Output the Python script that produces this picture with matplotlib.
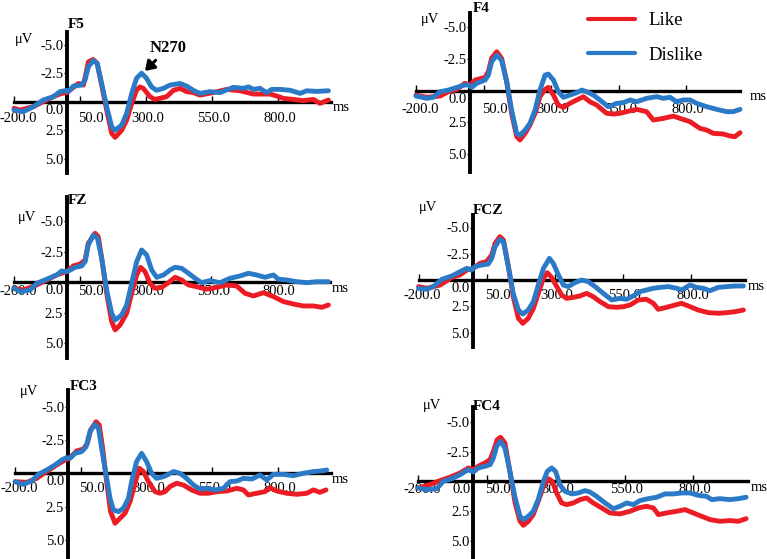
import matplotlib
matplotlib.use("Agg")
import matplotlib.pyplot as plt
from matplotlib.transforms import ScaledTranslation

plt.rcParams['font.family'] = ['Liberation Serif', 'DejaVu Serif']

# ---------------- data ----------------
channels = ["F5", "F4", "FZ", "FCZ", "FC3", "FC4"]
conditions = ["Like", "Dislike"]
x_ticks = [-200, 50, 300, 550, 800]
x_tick_labels = ["-200.0", "50.0", "300.0", "550.0", "800.0"]
y_ticks = [-5.0, -2.5, 2.5, 5.0]
y_tick_labels = ["-5.0", "-2.5", "2.5", "5.0"]
peak_label = "N270"
peak_time = 296
peak_uv = -2.7

F5_LIKE_T = [-200, -177, -127, -89, -51, -20, 0, 25, 44, 63, 82, 100, 115, 132, 151, 170, 183, 208, 227, 246, 264, 277, 290, 315, 334, 353, 378, 404, 429, 454, 479, 504, 555, 606, 656, 707, 744, 770, 795, 820, 858, 896, 934, 959, 991]
F5_LIKE_UV = [0.58, 0.73, 0.44, 0, -0.44, -0.73, -0.8, -1.26, -1.6, -1.46, -3.5, -3.7, -3.36, -1.46, 0.73, 2.78, 3.13, 2.5, 1.6, 0.15, -1.0, -1.3, -1.17, -0.44, -0.2, -0.3, -0.44, -1.0, -1.17, -0.88, -0.8, -0.58, -0.8, -1.08, -0.96, -0.67, -0.67, -0.67, -0.5, -0.29, -0.2, -0.09, -0.2, 0.15, -0.15]
F5_DISLIKE_T = [-200, -165, -127, -89, -51, -26, 0, 6, 25, 56, 69, 82, 100, 115, 132, 151, 170, 183, 208, 227, 246, 264, 283, 302, 321, 340, 366, 391, 429, 454, 479, 504, 542, 580, 631, 669, 688, 707, 732, 757, 776, 808, 846, 884, 909, 947, 991]
F5_DISLIKE_UV = [0.73, 0.88, 0.44, -0.15, -0.44, -0.88, -1.0, -0.88, -1.37, -1.46, -1.9, -3.07, -3.6, -3.36, -1.6, 0.44, 2.2, 2.5, 2.05, 1.0, -0.73, -2.05, -2.5, -2.05, -1.3, -1.0, -1.17, -1.46, -1.6, -1.37, -1.0, -0.73, -0.88, -0.8, -1.26, -1.17, -1.3, -1.08, -1.17, -0.8, -1.08, -1.08, -1.0, -0.73, -0.96, -0.9, -0.96]

F4_LIKE_T = [-200, -160, -111, -80, -49, -19, 0, 19, 56, 68, 80, 99, 117, 136, 154, 173, 185, 204, 222, 241, 259, 278, 290, 309, 327, 346, 370, 395, 420, 444, 469, 506, 531, 556, 580, 617, 654, 679, 716, 753, 778, 815, 852, 877, 901, 938, 963, 981, 1000]
F4_LIKE_UV = [0.34, 0.52, 0.42, 0.08, -0.1, -0.58, -0.45, -0.84, -1.05, -1.5, -2.55, -3.07, -2.55, -0.7, 1.78, 3.62, 3.88, 3.36, 2.7, 1.78, 0.47, -0.1, -0.26, 0.34, 1.13, 1.31, 1.0, 0.73, 0.47, 0.87, 1.13, 1.78, 1.84, 1.78, 1.65, 1.47, 1.65, 2.31, 2.18, 2.0, 2.18, 2.44, 2.97, 3.1, 3.36, 3.41, 3.57, 3.62, 3.31]
F4_DISLIKE_T = [-200, -160, -136, -111, -80, -49, -19, -6, 6, 25, 56, 68, 80, 99, 117, 136, 154, 173, 185, 204, 222, 241, 259, 278, 290, 309, 327, 346, 370, 395, 414, 432, 457, 481, 512, 543, 568, 593, 617, 654, 691, 716, 741, 765, 790, 815, 840, 877, 914, 951, 975, 1000]
F4_DISLIKE_UV = [0.42, 0.6, 0.52, 0.08, -0.05, -0.26, -0.45, -0.45, -0.26, -0.58, -0.84, -1.23, -2.28, -2.8, -2.4, -0.7, 1.52, 3.36, 3.5, 3.1, 2.57, 1.52, -0.05, -1.23, -1.31, -0.84, 0.08, 0.52, 0.34, 0.16, -0.05, 0.08, 0.34, 0.73, 1.26, 1.0, 0.94, 0.73, 0.87, 0.6, 0.47, 0.6, 0.52, 0.87, 0.73, 0.73, 1.0, 1.26, 1.47, 1.65, 1.65, 1.47]

FZ_LIKE_T = [-200, -165, -114, -76, -38, -13, 0, 25, 51, 70, 82, 108, 120, 133, 152, 171, 184, 203, 228, 247, 266, 281, 298, 317, 336, 361, 387, 412, 437, 463, 494, 532, 570, 608, 646, 678, 710, 748, 786, 824, 862, 900, 938, 970, 995]
FZ_LIKE_UV = [0.49, 0.63, 0.22, -0.19, -0.6, -0.79, -0.87, -1.34, -1.5, -1.83, -3.2, -4.02, -3.74, -1.97, 0.9, 3.22, 3.9, 3.5, 2.54, 0.9, -0.6, -1.23, -0.87, 0.08, 0.49, 0.41, 0.03, -0.41, -0.19, 0.22, 0.36, 0.57, 0.41, 0.22, 0.3, 0.9, 1.12, 0.85, 1.17, 1.58, 1.78, 1.94, 1.94, 2.05, 1.86]
FZ_DISLIKE_T = [-200, -177, -139, -114, -76, -38, -19, 0, 13, 32, 57, 70, 82, 101, 117, 133, 152, 171, 184, 209, 228, 247, 266, 285, 304, 323, 342, 368, 393, 412, 437, 463, 488, 513, 545, 583, 621, 659, 691, 722, 754, 786, 805, 837, 875, 913, 951, 995]
FZ_DISLIKE_UV = [0.49, 0.77, 0.63, 0.08, -0.25, -0.6, -0.93, -0.87, -1.0, -1.23, -1.34, -1.69, -3.06, -3.88, -3.6, -1.97, 0.63, 2.54, 3.09, 2.68, 1.86, 0.08, -1.69, -2.65, -2.24, -1.01, -0.41, -0.6, -1.01, -1.23, -1.15, -0.74, -0.33, 0.03, -0.14, 0.03, -0.33, -0.52, -0.74, -0.6, -0.41, -0.6, -0.25, -0.19, -0.05, 0.03, -0.05, -0.05]

FCZ_LIKE_T = [-200, -170, -121, -78, -48, -23, 1, 26, 50, 69, 81, 99, 112, 130, 148, 167, 183, 203, 222, 240, 259, 273, 289, 308, 326, 344, 369, 393, 418, 442, 467, 498, 528, 553, 577, 608, 638, 663, 681, 712, 743, 767, 798, 828, 865, 902, 933, 963, 994]
FCZ_LIKE_UV = [0.63, 0.79, 0.48, -0.25, -0.48, -0.95, -1.11, -1.59, -1.75, -2.38, -3.49, -4.13, -3.81, -1.27, 1.59, 3.65, 4.13, 3.65, 2.7, 1.27, -0.16, -0.7, -0.25, 0.63, 1.43, 1.75, 1.65, 1.52, 1.27, 1.59, 2.06, 2.54, 2.6, 2.54, 2.38, 1.9, 1.84, 2.22, 2.79, 2.6, 2.38, 2.22, 2.54, 2.86, 3.11, 3.17, 3.11, 3.02, 2.86]
FCZ_DISLIKE_T = [-200, -170, -146, -115, -78, -48, -23, -5, 7, 32, 56, 69, 81, 99, 112, 130, 148, 167, 183, 203, 222, 240, 259, 281, 295, 314, 332, 350, 375, 400, 424, 449, 479, 510, 540, 565, 589, 614, 638, 663, 688, 718, 749, 767, 798, 822, 847, 871, 902, 933, 963, 994]
FCZ_DISLIKE_UV = [0.79, 0.89, 0.63, -0.06, -0.38, -0.79, -1.11, -0.95, -1.27, -1.43, -1.52, -2.06, -3.17, -3.87, -3.65, -1.27, 1.27, 2.86, 3.24, 2.86, 2.06, 0.48, -1.11, -2.06, -1.59, -0.48, 0.48, 0.63, 0.25, 0, 0.16, 0.63, 1.27, 1.9, 1.75, 1.84, 1.52, 1.11, 0.95, 0.79, 0.7, 0.63, 0.79, 0.95, 0.48, 0.7, 0.79, 1.02, 0.7, 0.63, 0.57, 0.57]

FC3_LIKE_T = [-200, -156, -118, -80, -42, -10, 9, 34, 60, 75, 87, 108, 120, 133, 148, 163, 180, 199, 218, 237, 256, 272, 288, 307, 332, 351, 370, 389, 414, 440, 471, 503, 535, 567, 605, 643, 668, 687, 719, 750, 769, 795, 833, 871, 909, 934, 959, 982]
FC3_LIKE_UV = [0.63, 0.68, 0.38, -0.13, -0.63, -1.0, -1.18, -1.68, -1.83, -2.26, -3.26, -3.88, -3.63, -1.88, 0.63, 2.88, 3.76, 3.38, 3.0, 2.13, 0.75, -0.38, -0.13, 0.63, 1.38, 1.5, 1.38, 1.0, 0.75, 0.88, 1.25, 1.5, 1.5, 1.38, 1.33, 1.13, 1.25, 1.63, 1.5, 1.38, 1.08, 1.33, 1.5, 1.58, 1.5, 1.25, 1.43, 1.25]
FC3_DISLIKE_T = [-200, -169, -137, -112, -80, -48, -23, -4, 9, 28, 53, 70, 85, 104, 117, 129, 146, 161, 174, 193, 212, 231, 243, 262, 281, 300, 319, 338, 364, 383, 402, 427, 452, 478, 503, 528, 560, 592, 617, 643, 668, 700, 731, 757, 782, 820, 858, 896, 934, 966, 985]
FC3_DISLIKE_UV = [0.63, 0.83, 0.58, 0.08, -0.25, -0.63, -1.0, -1.18, -1.13, -1.5, -1.63, -2.0, -3.13, -3.68, -3.38, -1.88, 0.13, 1.88, 2.76, 2.88, 2.63, 1.88, 0.63, -0.88, -1.5, -0.88, 0, 0.38, 0.25, 0.08, -0.13, 0, 0.38, 0.88, 1.18, 1.13, 1.25, 1.13, 0.63, 0.58, 0.38, 0.43, 0.13, 0.5, 0.08, 0.08, 0.18, 0, -0.13, -0.18, -0.25]

FC4_LIKE_T = [-200, -158, -121, -85, -48, -18, 0, 18, 48, 61, 73, 87, 99, 115, 133, 152, 170, 182, 200, 218, 236, 255, 273, 287, 303, 321, 339, 364, 388, 412, 436, 467, 497, 533, 570, 600, 630, 655, 673, 703, 739, 770, 800, 830, 861, 897, 933, 964, 992]
FC4_LIKE_UV = [0.56, 0.28, -0.06, -0.34, -0.7, -1.12, -0.98, -1.26, -1.62, -1.82, -2.52, -3.5, -3.7, -3.22, -0.84, 1.82, 3.36, 3.7, 3.36, 2.8, 1.68, 0.42, -0.22, 0, 0.98, 1.82, 1.96, 1.82, 1.54, 1.4, 1.82, 2.24, 2.66, 2.74, 2.52, 2.24, 2.1, 2.24, 2.8, 2.66, 2.52, 2.38, 2.66, 2.94, 3.22, 3.36, 3.3, 3.36, 3.14]
FC4_DISLIKE_T = [-200, -170, -133, -109, -79, -48, -18, 0, 18, 42, 61, 73, 85, 99, 115, 133, 152, 170, 182, 200, 218, 236, 255, 269, 285, 299, 315, 333, 358, 382, 406, 424, 448, 479, 509, 533, 558, 582, 606, 636, 667, 697, 727, 758, 788, 818, 848, 867, 897, 933, 964, 992]
FC4_DISLIKE_UV = [0.56, 0.7, 0.62, 0, -0.22, -0.56, -0.98, -0.78, -1.12, -1.26, -1.4, -1.96, -2.94, -3.36, -2.8, -0.84, 1.4, 2.94, 3.22, 2.94, 2.52, 1.54, 0, -0.84, -1.12, -0.84, 0.28, 0.84, 1.06, 0.98, 0.78, 0.9, 1.26, 1.82, 2.3, 2.1, 1.82, 1.96, 1.62, 1.46, 1.34, 1.06, 1.06, 0.98, 0.98, 1.18, 1.26, 1.54, 1.46, 1.54, 1.46, 1.34]

SERIES = {
    "F5": ((F5_LIKE_T, F5_LIKE_UV), (F5_DISLIKE_T, F5_DISLIKE_UV)),
    "F4": ((F4_LIKE_T, F4_LIKE_UV), (F4_DISLIKE_T, F4_DISLIKE_UV)),
    "FZ": ((FZ_LIKE_T, FZ_LIKE_UV), (FZ_DISLIKE_T, FZ_DISLIKE_UV)),
    "FCZ": ((FCZ_LIKE_T, FCZ_LIKE_UV), (FCZ_DISLIKE_T, FCZ_DISLIKE_UV)),
    "FC3": ((FC3_LIKE_T, FC3_LIKE_UV), (FC3_DISLIKE_T, FC3_DISLIKE_UV)),
    "FC4": ((FC4_LIKE_T, FC4_LIKE_UV), (FC4_DISLIKE_T, FC4_DISLIKE_UV)),
}

# ---------------- layout (pixels of a 767x559 canvas) ----------------
W, H = 767, 559
LAYOUT = {
    "F5":  dict(xl=14.0, xr=330.8, yt=32, yb=173, y0=101.7, s=11.4, xpad=7.5, ms_dx=2, title=(68, 24), uv=(24, 40)),
    "F4":  dict(xl=416.0, xr=740.0, yt=13, yb=172, y0=90.7, s=12.7, xpad=9.0, ms_dx=10, title=(473, 8), uv=(430, 19)),
    "FZ":  dict(xl=14.1, xr=329.7, yt=197, yb=358, y0=282.3, s=12.2, xpad=2.0, ms_dx=2, title=(68, 201), uv=(27, 217)),
    "FCZ": dict(xl=418.6, xr=745.0, yt=215, yb=347, y0=280.0, s=10.5, xpad=6.3, ms_dx=3, title=(473, 211), uv=(428, 207)),
    "FC3": dict(xl=15.1, xr=330.7, yt=390, yb=559, y0=473.3, s=13.3, xpad=6.5, ms_dx=1, title=(70, 386), uv=(29, 392)),
    "FC4": dict(xl=418.3, xr=748.3, yt=407, yb=559, y0=481.3, s=11.9, xpad=1.0, ms_dx=2, title=(473, 406), uv=(432, 406)),
}
COLORS = {"Like": "#ec1c24", "Dislike": "#2a7ac8"}
TICK_FS = 10.5

fig = plt.figure(figsize=(W / 100, H / 100), dpi=100)
fig.patch.set_facecolor("white")

axes = {}
for ch in channels:
    L = LAYOUT[ch]
    ax = fig.add_axes([L["xl"] / W, 1 - L["yb"] / H, (L["xr"] - L["xl"]) / W, (L["yb"] - L["yt"]) / H])
    ax.patch.set_alpha(0)
    axes[ch] = ax
    ax.set_xlim(-200, 1000)
    ax.set_ylim((L["yb"] - L["y0"]) / L["s"], (L["yt"] - L["y0"]) / L["s"])

    for cond, (t, v) in zip(conditions, SERIES[ch]):
        ax.plot(t, v, color=COLORS[cond], lw=3.5, solid_joinstyle="round",
                solid_capstyle="round", zorder=3, clip_on=False, label=cond)

    for side in ("top", "right"):
        ax.spines[side].set_visible(False)
    ax.spines["left"].set_position(("data", 0))
    ax.spines["bottom"].set_position(("data", 0))
    ax.spines["left"].set_linewidth(2.8)
    ax.spines["bottom"].set_linewidth(2.4)

    ax.set_xticks(x_ticks)
    ax.set_xticklabels(x_tick_labels)
    ax.set_yticks(y_ticks)
    ax.set_yticklabels(y_tick_labels)
    ax.tick_params(axis="x", direction="in", length=4, width=1, pad=L["xpad"], labelsize=TICK_FS)
    ax.tick_params(axis="y", direction="out", length=2.5, width=1, pad=0, labelsize=TICK_FS)
    for lab, dx in zip(ax.get_xticklabels(), [4, 11, 2, 2, 2]):
        lab.set_transform(lab.get_transform() + ScaledTranslation(dx / 100, 0, fig.dpi_scale_trans))

    ax.annotate("0.0", xy=(0, 0), xycoords="data", xytext=(-3, -2), textcoords="offset pixels",
                ha="right", va="top", fontsize=TICK_FS)
    ax.annotate("ms", xy=(1000, 0), xycoords="data", xytext=(L["ms_dx"], -6), textcoords="offset pixels",
                ha="left", va="center", fontsize=TICK_FS)

    fig.text(L["title"][0] / W, 1 - L["title"][1] / H, ch, ha="left", va="center",
             fontsize=11, fontweight="bold")
    fig.text(L["uv"][0] / W, 1 - L["uv"][1] / H, "μV", ha="center", va="center", fontsize=TICK_FS)

# N270 annotation
axes["F5"].annotate(peak_label, xy=(peak_time, peak_uv), xytext=(385, -4.75), textcoords="data",
                    ha="center", va="center", fontsize=12, fontweight="bold",
                    arrowprops=dict(arrowstyle="-|>,head_length=0.45,head_width=0.3", lw=2.2,
                                    color="black", shrinkA=2, shrinkB=0))

# Legend
handles, labels = axes["F4"].get_legend_handles_labels()
leg = axes["F4"].legend(handles, labels, loc="upper left", bbox_to_anchor=(588 / W, 1 - 12 / H),
                        bbox_transform=fig.transFigure, frameon=False, fontsize=13.5,
                        handlelength=2.5, handletextpad=0.7, labelspacing=0.92,
                        borderpad=0, borderaxespad=0)
for lh in leg.get_lines():
    lh.set_linewidth(3.0)

fig.savefig("out.png", dpi=100, facecolor="white")
